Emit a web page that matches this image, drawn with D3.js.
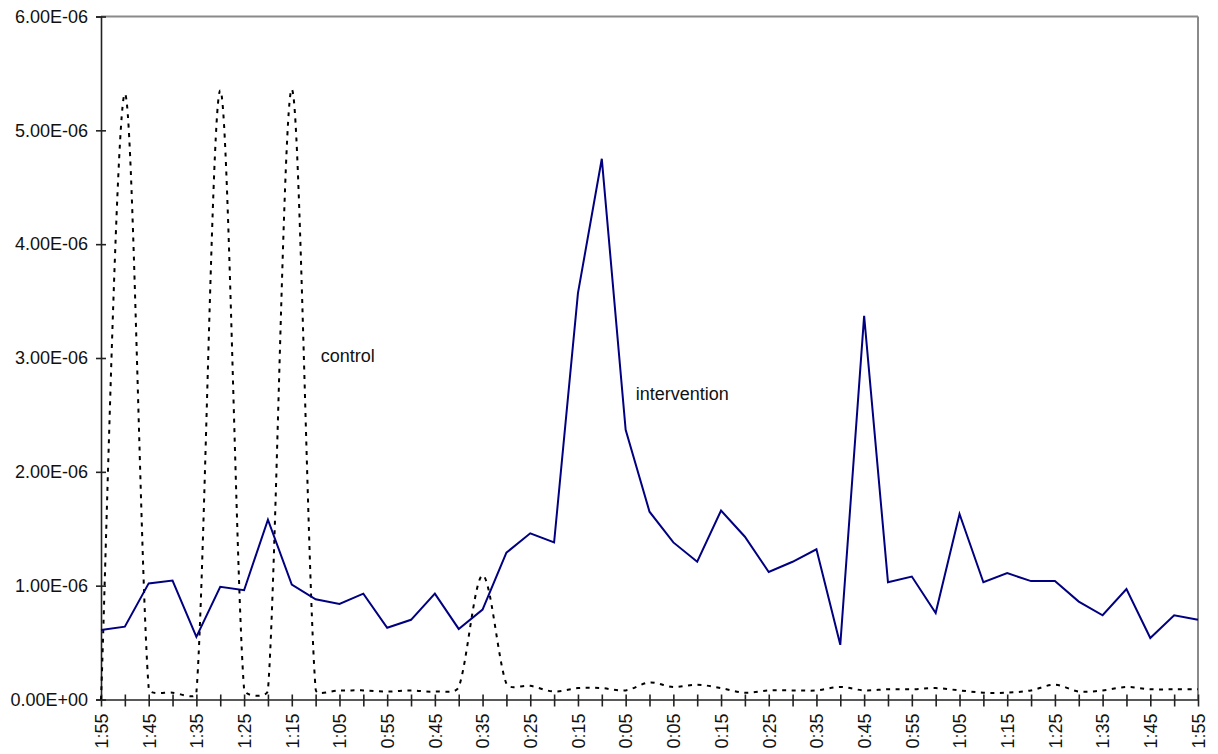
<!DOCTYPE html>
<html>
<head>
<meta charset="utf-8">
<script src="https://cdn.jsdelivr.net/npm/d3@7"></script>
<style>
  html, body { margin: 0; padding: 0; background: #fff; }
  svg { display: block; font-family: "Liberation Sans", Arial, sans-serif; }
</style>
</head>
<body>
<svg id="chart" width="1218" height="754"></svg>
<script>
// Time before / after the event, in 5-minute steps
const categories = [
  "1:55","1:50","1:45","1:40","1:35","1:30","1:25","1:20","1:15","1:10","1:05","1:00",
  "0:55","0:50","0:45","0:40","0:35","0:30","0:25","0:20","0:15","0:10","0:05","0:00",
  "0:05","0:10","0:15","0:20","0:25","0:30","0:35","0:40","0:45","0:50","0:55","1:00",
  "1:05","1:10","1:15","1:20","1:25","1:30","1:35","1:40","1:45","1:50","1:55"
];

const intervention = [
  0.61e-6, 0.64e-6, 1.02e-6, 1.045e-6, 0.55e-6, 0.99e-6, 0.96e-6, 1.58e-6, 1.01e-6, 0.88e-6,
  0.84e-6, 0.93e-6, 0.63e-6, 0.70e-6, 0.93e-6, 0.62e-6, 0.79e-6, 1.29e-6, 1.46e-6, 1.38e-6,
  3.57e-6, 4.75e-6, 2.37e-6, 1.65e-6, 1.38e-6, 1.21e-6, 1.66e-6, 1.43e-6, 1.12e-6, 1.21e-6,
  1.32e-6, 0.48e-6, 3.37e-6, 1.03e-6, 1.08e-6, 0.76e-6, 1.63e-6, 1.03e-6, 1.11e-6, 1.04e-6,
  1.04e-6, 0.86e-6, 0.74e-6, 0.97e-6, 0.54e-6, 0.74e-6, 0.70e-6
];

const control = [
  0.00e-6, 5.32e-6, 0.10e-6, 0.06e-6, 0.06e-6, 5.35e-6, 0.09e-6, 0.08e-6, 5.36e-6, 0.09e-6,
  0.08e-6, 0.08e-6, 0.07e-6, 0.08e-6, 0.07e-6, 0.11e-6, 1.09e-6, 0.14e-6, 0.12e-6, 0.07e-6,
  0.10e-6, 0.10e-6, 0.08e-6, 0.15e-6, 0.11e-6, 0.13e-6, 0.10e-6, 0.06e-6, 0.08e-6, 0.08e-6,
  0.08e-6, 0.11e-6, 0.08e-6, 0.09e-6, 0.09e-6, 0.10e-6, 0.08e-6, 0.06e-6, 0.06e-6, 0.08e-6,
  0.13e-6, 0.07e-6, 0.08e-6, 0.11e-6, 0.09e-6, 0.09e-6, 0.09e-6
];

const yTicks = [0, 1e-6, 2e-6, 3e-6, 4e-6, 5e-6, 6e-6];

const seriesLabels = [
  { text: "control", at: 9, value: 3.02e-6, offset: 5 },
  { text: "intervention", at: 22, value: 2.69e-6, offset: 10 }
];

const svg = d3.select("#chart");
const plot = { left: 101, right: 1198, top: 16.5, bottom: 699.5 };
const FONT = "'Liberation Sans', Arial, sans-serif";

const idx = d3.range(categories.length);
const x = d3.scalePoint().domain(idx).range([plot.left, plot.right]);
const y = d3.scaleLinear().domain([0, 6e-6]).range([plot.bottom, plot.top]);

function sci(v) {
  const [m, e] = v.toExponential(2).split("e");
  const n = parseInt(e, 10);
  const sign = n < 0 ? "-" : "+";
  return m + "E" + sign + String(Math.abs(n)).padStart(2, "0");
}

// Smoothed curve: cubic Bezier segments whose control arms follow the
// neighbouring points (1/6 of the chord) but stay short on small segments.
function SmoothCurve(context) { this._context = context; }
SmoothCurve.prototype = {
  areaStart() {}, areaEnd() {},
  lineStart() { this._pts = []; },
  point(px, py) { this._pts.push([+px, +py]); },
  lineEnd() {
    const p = this._pts, ctx = this._context, n = p.length;
    if (!n) return;
    ctx.moveTo(p[0][0], p[0][1]);
    const arm = (a, b, segLen) => {
      let dx = (b[0] - a[0]) / 6, dy = (b[1] - a[1]) / 6;
      const len = Math.hypot(dx, dy), cap = segLen / 3;
      if (len > cap && len > 0) { dx *= cap / len; dy *= cap / len; }
      return [dx, dy];
    };
    for (let i = 0; i < n - 1; i++) {
      const p0 = p[Math.max(0, i - 1)], p1 = p[i], p2 = p[i + 1], p3 = p[Math.min(n - 1, i + 2)];
      const seg = Math.hypot(p2[0] - p1[0], p2[1] - p1[1]);
      const a1 = arm(p0, p2, seg);
      const a2 = arm(p1, p3, seg);
      ctx.bezierCurveTo(p1[0] + a1[0], p1[1] + a1[1], p2[0] - a2[0], p2[1] - a2[1], p2[0], p2[1]);
    }
  }
};
const curveSmooth = context => new SmoothCurve(context);

// Frame: grey top and right edges
svg.append("line")
  .attr("x1", plot.left).attr("x2", plot.right)
  .attr("y1", plot.top).attr("y2", plot.top)
  .attr("stroke", "#8a8a8a").attr("stroke-width", 2);
svg.append("line")
  .attr("x1", plot.right).attr("x2", plot.right)
  .attr("y1", plot.top).attr("y2", plot.bottom)
  .attr("stroke", "#8a8a8a").attr("stroke-width", 2);

// Y axis
const yAxis = svg.append("g")
  .attr("transform", `translate(${plot.left},0)`)
  .call(d3.axisLeft(y).tickValues(yTicks).tickFormat(sci).tickSize(5).tickPadding(8));
yAxis.selectAll(".tick line").attr("x1", -5).attr("x2", 5);
yAxis.selectAll("path, line").attr("stroke", "#222").attr("stroke-width", 1.6);
yAxis.selectAll("text")
  .style("font-size", "18px").style("font-family", FONT)
  .attr("fill", "#111");

// X axis: a tick for every step, a label for every other one
const xAxis = svg.append("g")
  .attr("transform", `translate(0,${plot.bottom})`)
  .call(d3.axisBottom(x).tickValues(idx)
    .tickFormat(i => (i % 2 === 0 ? categories[i] : ""))
    .tickSize(7).tickSizeOuter(0));
xAxis.selectAll(".tick line").attr("y1", -5).attr("y2", 7);
xAxis.selectAll("path, line").attr("stroke", "#222").attr("stroke-width", 1.6);
xAxis.selectAll("text")
  .style("font-size", "18px").style("font-family", FONT)
  .attr("fill", "#111")
  .attr("transform", "rotate(-90)")
  .attr("text-anchor", "end")
  .attr("x", -14).attr("y", 0).attr("dy", "0.35em");

// Series lines
const controlLine = d3.line()
  .x((d, i) => x(i)).y(d => y(d))
  .curve(curveSmooth);
const interventionLine = d3.line()
  .x((d, i) => x(i)).y(d => y(d));

svg.append("path")
  .datum(control)
  .attr("d", controlLine)
  .attr("fill", "none")
  .attr("stroke", "#000")
  .attr("stroke-width", 2)
  .attr("stroke-dasharray", "4,5.5");

svg.append("path")
  .datum(intervention)
  .attr("d", interventionLine)
  .attr("fill", "none")
  .attr("stroke", "#000080")
  .attr("stroke-width", 2)
  .attr("stroke-linejoin", "miter");

// In-chart series names
svg.selectAll(".series-label")
  .data(seriesLabels)
  .enter().append("text")
  .attr("class", "series-label")
  .attr("x", d => x(d.at) + d.offset)
  .attr("y", d => y(d.value))
  .attr("dy", "0.35em")
  .style("font-size", "18px").style("font-family", FONT)
  .attr("fill", "#111")
  .text(d => d.text);
</script>
</body>
</html>
